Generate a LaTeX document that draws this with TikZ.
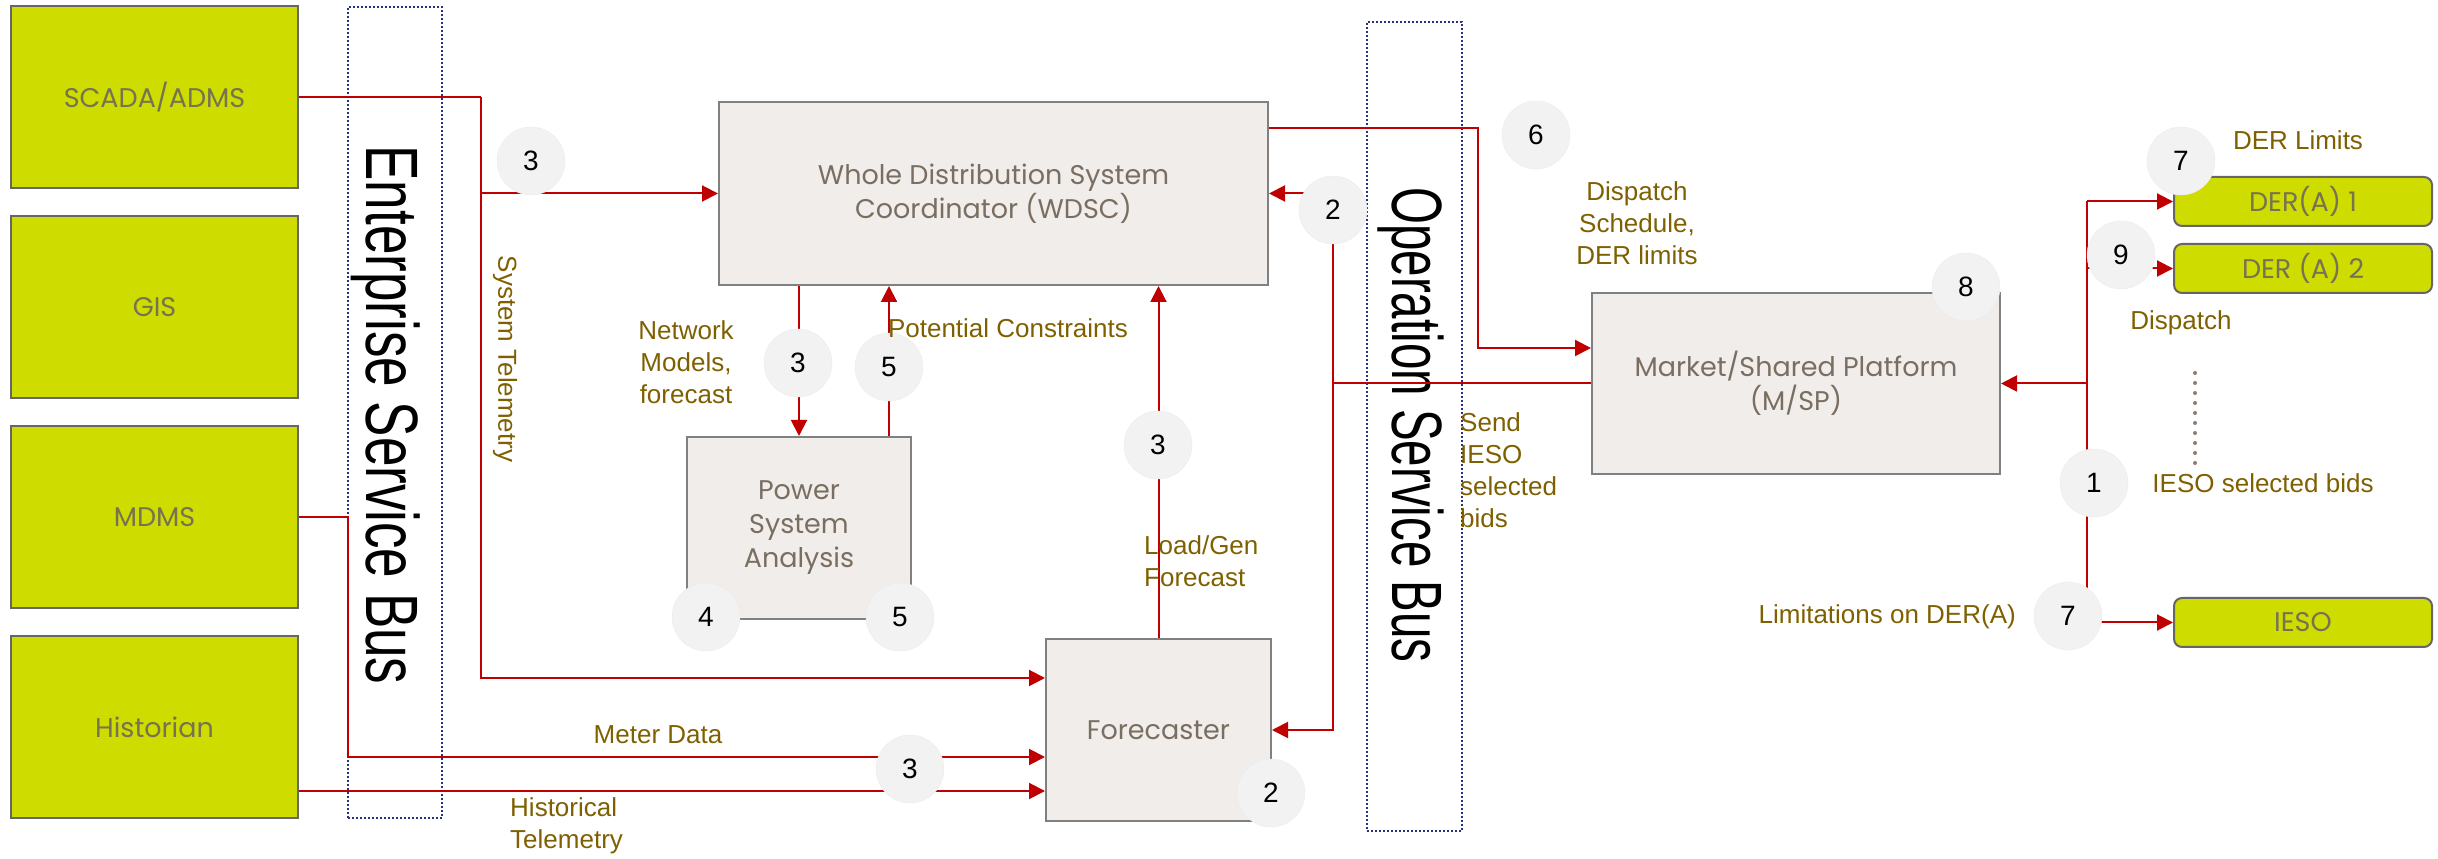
\documentclass[tikz,border=0pt]{standalone}
\usepackage{fontspec}
\setmainfont{Liberation Sans}
\newfontfamily\gothic{Poppins}
\usetikzlibrary{positioning, arrows.meta}
\definecolor{limebox}{RGB}{206,220,0}
\definecolor{greybox}{RGB}{240,237,234}
\definecolor{boxtext}{RGB}{122,110,98}
\definecolor{limetext}{RGB}{118,114,82}
\definecolor{flowred}{RGB}{192,0,0}
\definecolor{labelbrown}{RGB}{127,96,0}
\definecolor{busblue}{RGB}{40,50,130}
\definecolor{stepgrey}{RGB}{242,242,242}
\tikzset{
x=1pt, y=1pt, % one unit is one pixel of the sketch
>={Triangle[length=16pt,width=16pt]}, % filled triangle heads
node distance=210pt, % spacing of the source column
source/.style={draw=gray!80!black, line width=2pt, fill=limebox, minimum width=287pt, minimum height=182pt, text=limetext, font=\gothic\fontsize{27}{33}\selectfont}, % green systems
module/.style={draw=gray, line width=2pt, fill=greybox, text=boxtext, align=center, font=\gothic\fontsize{27}{34}\selectfont}, % grey function blocks
der/.style={source, rounded corners=8pt, minimum width=258pt, minimum height=49pt}, % small green boxes
flow/.style={flowred, line width=2pt}, % red connectors
stepnum/.style={circle, fill=stepgrey, draw=gray!15, minimum size=68pt, inner sep=0pt, font=\fontsize{28}{28}\selectfont}, % numbered steps
lbl/.style={text=labelbrown, align=center, inner sep=0pt, font=\fontsize{26}{32}\selectfont}, % flow labels
bus/.style={draw=busblue, line width=2.5pt, dash pattern=on 2pt off 2pt}, % service buses
}
\begin{document}
\begin{tikzpicture}
\useasboundingbox (0,0) rectangle (2438,859);

% source systems
\node[source] (scada) at (154.5,762) {SCADA/ADMS};
\node[source, below of=scada] (gis) {GIS};
\node[source, below of=gis] (mdms) {MDMS};
\node[source, below of=mdms] (hist) {Historian};

% service buses
\node[bus, minimum width=94pt, minimum height=811pt] (esb) at (395,446.5) {};
\node[rotate=-90] (esbtext) at (386,444) {\scalebox{1}[1.4]{\fontsize{53}{53}\selectfont Enterprise Service Bus}};
\node[bus, minimum width=95pt, minimum height=809pt] (osb) at (1414.5,432.5) {};
\node[rotate=-90] (osbtext) at (1411,434) {\scalebox{1}[1.5]{\fontsize{47.5}{48}\selectfont Operation Service Bus}};

% function blocks
\node[module, minimum width=549pt, minimum height=183pt] (wdsc) at (993.5,665.5) {Whole Distribution System\\Coordinator (WDSC)};
\node[module, minimum width=224pt, minimum height=182pt] (psa) at (799,331) {Power\\System\\Analysis};
\node[module, minimum width=225pt, minimum height=182pt] (fc) at (1158.5,129) {Forecaster};
\node[module, minimum width=408pt, minimum height=181pt] (msp) at (1796,475.5) {Market/Shared Platform\\(M/SP)};

% DER side
\node[der] (der1) at (2303,657.5) {DER(A) 1};
\node[der, below=16pt of der1] (der2) {DER (A) 2};
\node[der] (ieso) at (2303,236.5) {IESO};

% corner points of the red lines
\coordinate (tel) at (481,762);
\coordinate (dsp) at (1478,731);
\coordinate (bid) at (1333,475.5);
\coordinate (dbus) at (2087,657.5);

% connectors
\draw[flow] (scada.east) -- (tel);
\draw[flow,->] (tel) |- (wdsc.west);
\draw[flow,->] (tel) |- ([yshift=52pt]fc.west);
\draw[flow,->] (mdms.east) -- ++(49,0) |- ([yshift=-27pt]fc.west);
\draw[flow,->] ([yshift=-61pt]fc.west -| hist.east) -- ([yshift=-61pt]fc.west);
\draw[flow,->] (wdsc.south -| psa.north) -- (psa.north);
\draw[flow,->] ([xshift=90pt]psa.north) -- ([xshift=90pt]psa.north |- wdsc.south);
\draw[flow,->] (fc.north) -- (fc.north |- wdsc.south);
\draw[flow,->] ([yshift=65.5pt]wdsc.east) -- (dsp) |- ([yshift=35.5pt]msp.west);
\draw[flow] (msp.west) -- (bid);
\draw[flow,->] (bid) |- (wdsc.east);
\draw[flow,->] (bid) |- (fc.east);
\draw[flow] (dbus) -- (dbus |- ieso.west);
\draw[flow,->] (dbus) -- (der1.west);
\draw[flow,->] (dbus |- der2.west) -- (der2.west);
\draw[flow,->] (dbus |- msp.east) -- (msp.east);
\draw[flow,->] (dbus |- ieso.west) -- (ieso.west);
\draw[draw={rgb,255:red,140;green,125;blue,110}, line width=4pt, line cap=round, dash pattern=on 0pt off 10pt] (2195,486) -- (2195,392);

% step numbers
\node[stepnum] (s3a) at (531,698) {3};
\node[stepnum] (s3b) at (798,496) {3};
\node[stepnum] (s5a) at (889,492) {5};
\node[stepnum] (s2a) at (1333,649) {2};
\node[stepnum] (s3c) at (1158,414) {3};
\node[stepnum] (s4) at (706,242) {4};
\node[stepnum] (s5b) at (900,242) {5};
\node[stepnum] (s3d) at (910,90) {3};
\node[stepnum] (s2b) at (1271,66) {2};
\node[stepnum] (s6) at (1536,724) {6};
\node[stepnum] (s8) at (1966,572) {8};
\node[stepnum] (s7a) at (2181,698) {7};
\node[stepnum] (s9) at (2121,604) {9};
\node[stepnum] (s1) at (2094,376) {1};
\node[stepnum] (s7b) at (2068,243) {7};

% flow labels
\node[lbl, rotate=-90] (systel) at (505,500) {System Telemetry};
\node[lbl] (netmod) at (686,497) {Network\\Models,\\forecast};
\node[lbl] (potcon) at (1008,531) {Potential Constraints};
\node[lbl, align=left, anchor=west] (loadgen) at (1144,298) {Load/Gen\\Forecast};
\node[lbl] (meter) at (658,124) {Meter Data};
\node[lbl, align=left, anchor=west] (histtel) at (510,33) {Historical\\Telemetry};
\node[lbl] (dispsch) at (1637,636) {Dispatch\\Schedule,\\DER limits};
\node[lbl, align=left, anchor=west] (sendbids) at (1460,389) {Send\\IESO\\selected\\bids};
\node[lbl] (derlim) at (2298,719) {DER Limits};
\node[lbl] (disp) at (2181,536) {Dispatch};
\node[lbl] (iesobids) at (2263,376) {IESO selected bids};
\node[lbl, anchor=east] (limder) at (2016,242) {Limitations on DER(A)};
\end{tikzpicture}
\end{document}
